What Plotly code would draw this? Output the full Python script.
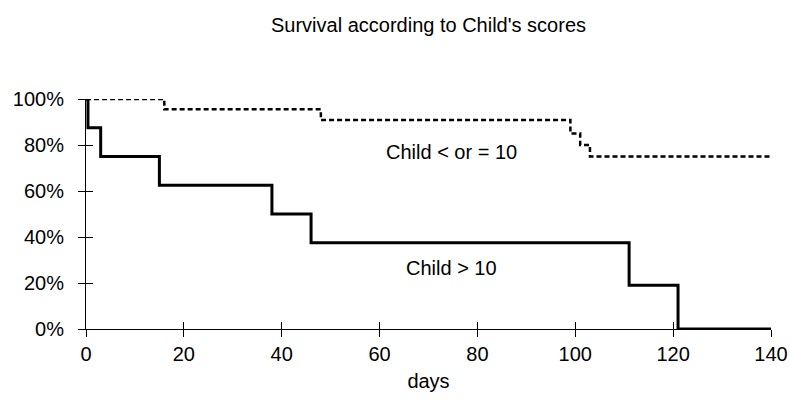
import plotly.graph_objects as go

# Data (Kaplan-Meier style step values)
days_low = [0, 16, 48, 99, 101, 103, 140]
surv_low = [1.0, 0.955, 0.909, 0.85, 0.80, 0.75, 0.75]

days_high = [0, 0.4, 3, 15, 38, 46, 111, 121, 140]
surv_high = [1.0, 0.875, 0.75, 0.625, 0.5, 0.375, 0.19, 0.0, 0.0]

x_ticks = [0, 20, 40, 60, 80, 100, 120, 140]
y_ticks = [0, 0.2, 0.4, 0.6, 0.8, 1.0]
y_tick_labels = ["0%", "20%", "40%", "60%", "80%", "100%"]

title_text = "Survival according to Child's scores"
x_title = "days"
label_low = "Child < or = 10"
label_high = "Child > 10"

FONT = "Liberation Sans, Arial, sans-serif"
FS = 20

fig = go.Figure()
fig.add_trace(go.Scatter(x=days_low, y=surv_low, mode="lines", line_shape="hv",
                         line=dict(color="black", width=2.5, dash="5px,3px"),
                         showlegend=False, hoverinfo="skip"))
fig.add_trace(go.Scatter(x=days_high, y=surv_high, mode="lines", line_shape="hv",
                         line=dict(color="black", width=3),
                         showlegend=False, hoverinfo="skip"))
# empty trace for the overlay axes (inner half of crossing ticks)
fig.add_trace(go.Scatter(x=[], y=[], xaxis="x2", yaxis="y2", showlegend=False))

fig.add_annotation(x=74.8, y=0.771, text=label_low, showarrow=False,
                   font=dict(family=FONT, size=FS, color="black"))
fig.add_annotation(x=74.8, y=0.265, text=label_high, showarrow=False,
                   font=dict(family=FONT, size=FS, color="black"))

fig.update_layout(
    width=790, height=408,
    margin=dict(l=86, r=19, t=99, b=79, autoexpand=False),
    paper_bgcolor="white", plot_bgcolor="white",
    font=dict(family=FONT, size=FS, color="black"),
    title=dict(text=title_text, x=0.5, xref="paper", xanchor="center",
               y=1 - 25 / 408, yref="container", yanchor="middle",
               font=dict(family=FONT, size=FS, color="black")),
    xaxis=dict(range=[0, 140], tickvals=x_ticks, showgrid=False, zeroline=False,
               showline=True, linecolor="black", linewidth=1,
               ticks="outside", ticklen=7, tickcolor="black", tickwidth=1,
               tickfont=dict(family=FONT, size=FS, color="black"),
               title=dict(text=x_title, standoff=9,
                          font=dict(family=FONT, size=FS, color="black")),
               automargin=False, fixedrange=True),
    yaxis=dict(range=[0, 1], tickvals=y_ticks, ticktext=y_tick_labels,
               showgrid=False, zeroline=False,
               showline=True, linecolor="black", linewidth=1,
               ticks="outside", ticklen=7, tickcolor="black", tickwidth=1,
               tickfont=dict(family=FONT, size=FS, color="black"),
               ticklabelstandoff=10, automargin=False, fixedrange=True),
    xaxis2=dict(range=[0, 140], tickvals=x_ticks, overlaying="x", anchor="y2",
                side="bottom", showticklabels=False, showgrid=False, zeroline=False,
                showline=False, ticks="inside", ticklen=7, tickcolor="black",
                tickwidth=1, automargin=False, fixedrange=True),
    yaxis2=dict(range=[0, 1], tickvals=y_ticks, overlaying="y", anchor="x2",
                side="left", showticklabels=False, showgrid=False, zeroline=False,
                showline=False, ticks="inside", ticklen=7, tickcolor="black",
                tickwidth=1, automargin=False, fixedrange=True),
)

fig.write_html("out.html", config={"displayModeBar": False},
               post_script="document.body.style.margin='0px';")
